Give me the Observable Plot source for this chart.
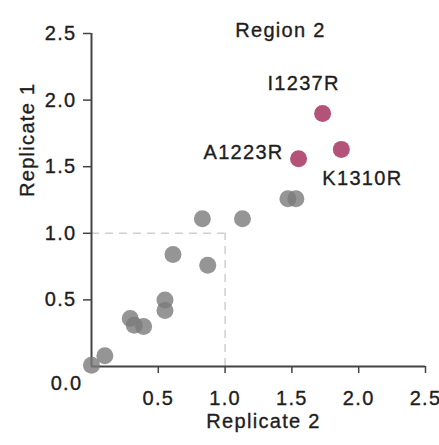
<!DOCTYPE html>
<html>
<head>
<meta charset="utf-8">
<script src="https://cdn.jsdelivr.net/npm/d3@7"></script>
<script src="https://cdn.jsdelivr.net/npm/@observablehq/plot@0.6"></script>
<style>
  html, body { margin: 0; padding: 0; background: #fff; }
</style>
</head>
<body>
<div id="chart"></div>
<script>
// Data
const grayX = [0.00, 0.10, 0.29, 0.32, 0.39, 0.55, 0.55, 0.61, 0.83, 0.87, 1.13, 1.47, 1.53];
const grayY = [0.01, 0.08, 0.36, 0.31, 0.30, 0.50, 0.42, 0.84, 1.11, 0.76, 1.11, 1.26, 1.26];
const hitNames = ["I1237R", "A1223R", "K1310R"];
const hitX = [1.73, 1.55, 1.87];
const hitY = [1.90, 1.56, 1.63];
const xTicks = [0.5, 1.0, 1.5, 2.0, 2.5];
const yTicks = [0.5, 1.0, 1.5, 2.0, 2.5];
const title = "Region 2";
const xLabel = "Replicate 2";
const yLabel = "Replicate 1";
const originLabel = "0.0";

const gray = grayX.map((x, i) => ({x, y: grayY[i]}));
const hits = hitNames.map((name, i) => ({name, x: hitX[i], y: hitY[i]}));
const hit = (n) => hits.filter(d => d.name === n);

const textColor = "#1e1e1e";
const fs = 20;
const halo = {stroke: textColor, strokeWidth: 0.35};

const plot = Plot.plot({
  width: 439,
  height: 445,
  marginLeft: 91,
  marginRight: 14,
  marginTop: 33,
  marginBottom: 79,
  style: {fontFamily: "'Liberation Sans', Arial, sans-serif", fontSize: "20px", letterSpacing: "1.3px", color: textColor, background: "#fff"},
  x: {domain: [0, 2.5]},
  y: {domain: [0, 2.5]},
  marks: [
    // reference dashed guides
    Plot.ruleY([1], {x1: 0, x2: 1, stroke: "#cfcfcf", strokeWidth: 1.5, strokeDasharray: "8,6"}),
    Plot.ruleX([1], {y1: 0, y2: 1, stroke: "#cfcfcf", strokeWidth: 1.5, strokeDasharray: "8,6"}),
    // axes
    Plot.axisX({ticks: xTicks, tickFormat: d3.format(".1f"), tickSize: 7, tickPadding: 17, label: null, fontSize: fs, stroke: "#444", strokeWidth: 1.5, textStroke: textColor, textStrokeWidth: 0.35, textStrokeOpacity: 1}),
    Plot.axisY({ticks: yTicks, tickFormat: d3.format(".1f"), tickSize: 8, tickPadding: 7, label: null, fontSize: fs, stroke: "#444", strokeWidth: 1.5, textStroke: textColor, textStrokeWidth: 0.35, textStrokeOpacity: 1}),
    Plot.ruleY([0], {stroke: "#444", strokeWidth: 2}),
    Plot.ruleX([0], {stroke: "#444", strokeWidth: 2}),
    Plot.text([originLabel], {x: () => 0, y: () => 0, text: d => d, dx: -25, dy: 17, fontSize: fs, fill: textColor, ...halo}),
    // points
    Plot.dot(gray, {x: "x", y: "y", r: 8.5, fill: "#7a7a7a", fillOpacity: 0.8, stroke: "none"}),
    Plot.dot(hits, {x: "x", y: "y", r: 8.5, fill: "#b04a72", fillOpacity: 0.95, stroke: "none"}),
    // point labels
    Plot.text(hit("I1237R"), {x: "x", y: "y", text: "name", dx: -19, dy: -30, fontSize: fs, fill: textColor, ...halo}),
    Plot.text(hit("A1223R"), {x: "x", y: "y", text: "name", textAnchor: "end", dx: -15, dy: -6, fontSize: fs, fill: textColor, ...halo}),
    Plot.text(hit("K1310R"), {x: "x", y: "y", text: "name", textAnchor: "start", dx: -19, dy: 29, fontSize: fs, fill: textColor, ...halo}),
    // titles
    Plot.text([title], {frameAnchor: "top", dx: 22, dy: -11, fontSize: fs, fill: textColor, ...halo}),
    Plot.text([xLabel], {frameAnchor: "bottom", dx: 5, dy: 61, fontSize: fs, fill: textColor, ...halo}),
    Plot.text([yLabel], {frameAnchor: "left", rotate: -90, dx: -64, dy: -3, fontSize: fs, fill: textColor, ...halo})
  ]
});
document.getElementById("chart").appendChild(plot);
</script>
</body>
</html>
